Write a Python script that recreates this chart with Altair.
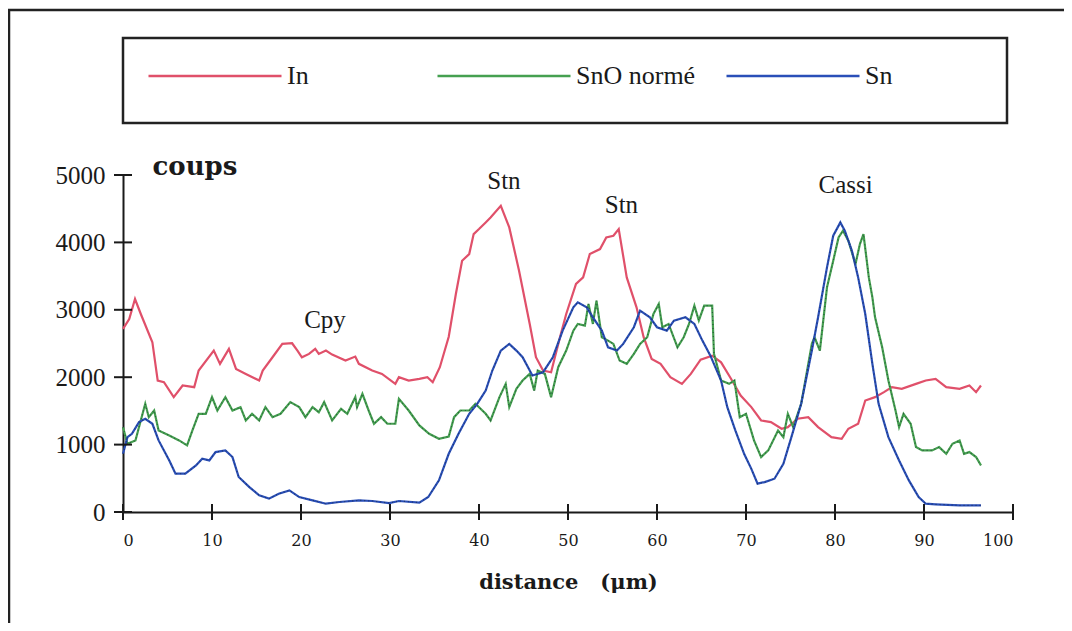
import altair as alt
import pandas as pd

# ---------------- data ----------------
SERIES = ["In", "SnO normé", "Sn"]
COLORS = ["#e0506a", "#45a050", "#2a4fb8"]

IN_X = [0, 0.7, 1.35, 2.0, 3.3, 3.9, 4.6, 5.7, 6.7, 8.0, 8.5, 10.2, 10.9, 11.9, 12.7, 13.8,
        15.3, 15.7, 16.8, 17.9, 19.0, 19.6, 20.1, 20.9, 21.6, 22.0, 22.8, 23.5, 25.0, 26.1,
        26.5, 28.0, 29.1, 30.6, 31.0, 32.1, 33.3, 34.2, 34.8, 35.6, 36.6, 37.4, 38.1, 38.9,
        39.4, 40.0, 40.75, 41.3, 42.45, 43.4, 44.5, 45.7, 46.4, 47.2, 48.1, 49.1, 49.8, 50.9,
        51.7, 52.45, 53.6, 54.3, 55.1, 55.7, 56.6, 57.7, 58.5, 59.4, 60.4, 61.5, 62.8, 63.8,
        64.9, 66.2, 67.2, 68.3, 69.4, 70.6, 71.7, 72.8, 74.0, 74.7, 75.8, 77.0, 78.1, 79.6,
        80.75, 81.5, 82.6, 83.4, 84.5, 85.5, 86.4, 87.5, 89.1, 90.2, 91.3, 92.5, 94.0, 95.1,
        95.85, 96.4]
IN_Y = [2716, 2864, 3160, 2938, 2519, 1950, 1926, 1704, 1877, 1852, 2099, 2395, 2198, 2420, 2123, 2049,
        1951, 2099, 2296, 2494, 2504, 2395, 2296, 2346, 2420, 2346, 2395, 2336, 2247, 2306,
        2198, 2099, 2049, 1901, 2000, 1951, 1975, 2000, 1926, 2148, 2600, 3235, 3728, 3827,
        4123, 4198, 4296, 4370, 4543, 4222, 3580, 2790, 2296, 2099, 2074, 2593, 2938, 3383,
        3481, 3827, 3901, 4074, 4099, 4198, 3481, 3037, 2593, 2272, 2198, 2000, 1901, 2049,
        2260, 2320, 2220, 1980, 1728, 1556, 1358, 1333, 1235, 1259, 1383, 1407, 1259, 1111,
        1086, 1235, 1309, 1654, 1704, 1778, 1852, 1827, 1901, 1951, 1975, 1852, 1827, 1877,
        1778, 1877]

SNO_X = [0, 0.5, 1.4, 2.2, 2.5, 2.9, 3.5, 4.0, 5.2, 6.3, 7.2, 7.8, 8.5, 9.3, 10.0, 10.6, 11.5,
         12.3, 13.2, 13.8, 14.5, 15.3, 16.0, 16.8, 17.7, 18.8, 19.8, 20.5, 21.3, 22.0, 22.6,
         23.5, 24.5, 25.2, 26.1, 26.3, 26.9, 27.6, 28.2, 29.0, 29.7, 30.6, 31.0, 32.1, 33.3,
         34.4, 35.5, 36.6, 37.2, 37.9, 38.9, 39.6, 40.75, 41.3, 42.3, 43.0, 43.4, 44.2, 44.9,
         45.7, 46.2, 46.6, 47.4, 48.1, 48.9, 49.8, 50.6, 51.1, 51.9, 52.3, 52.8, 53.2, 53.8,
         54.5, 55.1, 55.8, 56.6, 57.4, 58.1, 58.9, 59.6, 60.2, 60.6, 61.3, 62.3, 63.0, 63.6,
         64.2, 64.7, 65.3, 66.2, 66.4, 67.2, 68.1, 68.7, 69.3, 70.0, 70.9, 71.7, 72.5, 73.6,
         74.2, 74.7, 75.3, 76.2, 77.4, 77.7, 78.3, 79.1, 79.8, 80.4, 80.9, 81.5, 82.3, 82.8,
         83.2, 83.8, 84.2, 84.5, 85.3, 86.0, 86.8, 87.2, 87.7, 88.5, 89.1, 89.8, 90.9, 91.7,
         92.5, 93.2, 94.0, 94.5, 95.1, 95.85, 96.4]
SNO_Y = [1259, 1012, 1062, 1457, 1605, 1407, 1506, 1210, 1136, 1062, 988, 1210, 1457, 1457, 1704, 1506, 1704,
         1506, 1556, 1358, 1457, 1358, 1556, 1407, 1457, 1630, 1556, 1407, 1556, 1481, 1630,
         1358, 1531, 1457, 1704, 1556, 1753, 1506, 1309, 1407, 1309, 1309, 1679, 1506, 1284,
         1160, 1086, 1120, 1407, 1506, 1506, 1605, 1457, 1358, 1704, 1901, 1556, 1827, 1951,
         2049, 1802, 2099, 2049, 1704, 2148, 2395, 2691, 2790, 2765, 3086, 2790, 3136, 2593,
         2543, 2494, 2247, 2198, 2346, 2494, 2593, 2938, 3086, 2741, 2790, 2444, 2593, 2790,
         3062, 2840, 3062, 3062, 2346, 1951, 1901, 1951, 1407, 1457, 1062, 815, 914, 1210,
         1111, 1457, 1259, 1605, 2494, 2593, 2395, 3333, 3728, 4074, 4173, 4025, 3679, 3975,
         4123, 3481, 3185, 2889, 2444, 1951, 1506, 1259, 1457, 1309, 963, 914, 914, 963,
         864, 1012, 1062, 864, 889, 815, 691]

SN_X = [0, 0.5, 1.0, 1.8, 2.5, 3.3, 4.0, 5.2, 5.9, 7.0, 8.2, 8.9, 9.7, 10.4, 11.5, 12.3, 13.0,
        14.2, 15.3, 16.4, 17.5, 18.7, 19.8, 21.3, 22.8, 24.3, 26.5, 28.0, 29.9, 31.0, 33.3,
        34.3, 35.5, 36.6, 37.7, 38.9, 39.8, 40.75, 41.5, 42.45, 43.4, 44.2, 44.9, 46.0, 47.2,
        48.3, 49.4, 50.6, 51.1, 52.1, 52.8, 53.8, 54.5, 55.5, 56.2, 57.4, 58.1, 59.2, 60.0,
        61.1, 61.9, 63.2, 64.2, 65.1, 66.0, 67.2, 67.9, 68.8, 69.8, 70.6, 71.3, 72.1, 73.2,
        74.2, 75.1, 76.2, 77.4, 78.1, 79.1, 79.8, 80.6, 81.1, 81.9, 82.6, 83.4, 84.2, 84.9,
        86.0, 87.2, 88.3, 89.4, 90.2, 91.3, 94.0, 96.4]
SN_Y = [864, 1111, 1160, 1333, 1383, 1309, 1062, 765, 568, 568, 691, 790, 765, 889, 914, 815, 519,
        370, 247, 198, 272, 321, 222, 173, 123, 148, 173, 163, 133, 163, 140,
        222, 470, 864, 1160, 1457, 1605, 1802, 2099, 2395, 2494, 2395, 2296, 2025, 2074,
        2296, 2691, 3037, 3111, 3037, 2889, 2691, 2444, 2395, 2494, 2741, 2988, 2889, 2741,
        2691, 2840, 2889, 2790, 2543, 2320, 1950, 1555, 1210, 860, 640, 420, 444, 494,
        716, 1111, 1605, 2395, 2889, 3630, 4099, 4296, 4173, 3877, 3481, 2938, 2198, 1605,
        1111, 765, 469, 222, 123, 114, 99, 99]

X_TICKS = [0, 10, 20, 30, 40, 50, 60, 70, 80, 90, 100]
Y_TICKS = [0, 1000, 2000, 3000, 4000, 5000]

NOTE_TEXT = ["Cpy", "Stn", "Stn", "Cassi"]
NOTE_X = [22.7, 42.8, 56.0, 81.2]
NOTE_Y = [2730, 4792, 4441, 4733]

# ---------------- tables ----------------
rows = []
for name, xs, ys in [("In", IN_X, IN_Y), ("SnO normé", SNO_X, SNO_Y), ("Sn", SN_X, SN_Y)]:
    for i, (xv, yv) in enumerate(zip(xs, ys)):
        rows.append({"serie": name, "x": xv, "y": yv, "ord": i})
df = pd.DataFrame(rows)
notes = pd.DataFrame({"t": NOTE_TEXT, "x": NOTE_X, "y": NOTE_Y})
xt = pd.DataFrame({"x": X_TICKS})
yt = pd.DataFrame({"y": Y_TICKS})
one = pd.DataFrame({"a": [0]})

INK = "#1a1a1a"
xs_ = alt.Scale(domain=[0, 100], nice=False, zero=False)
ys_ = alt.Scale(domain=[0, 5000], nice=False)

x_axis = alt.Axis(values=X_TICKS, format="d", grid=False, ticks=True, tickSize=8, tickOpacity=0,
                  labelPadding=12, labelFont="DejaVu Serif", labelFontSize=16, labelColor=INK,
                  domainColor=INK, domainWidth=2, title="distance\u00a0\u00a0\u00a0(μm)",
                  titleFont="DejaVu Serif", titleFontWeight="bold", titleFontSize=21,
                  titleColor=INK, titlePadding=23)
y_axis = alt.Axis(values=Y_TICKS, format="d", grid=False, ticks=True, tickSize=9, tickOpacity=0,
                  labelPadding=9, labelFont="Liberation Serif", labelFontSize=25, labelColor=INK,
                  domainColor=INK, domainWidth=2, title="coups", titleAngle=0, titleX=29,
                  titleY=-1, titleAlign="left", titleBaseline="alphabetic",
                  titleFont="DejaVu Serif", titleFontWeight="bold", titleFontSize=26,
                  titleColor=INK)

X = alt.X("x:Q", scale=xs_, axis=x_axis)
Y = alt.Y("y:Q", scale=ys_, axis=y_axis)

lines = alt.Chart(df).mark_line(strokeWidth=2.2).encode(
    x=X, y=Y,
    color=alt.Color("serie:N", scale=alt.Scale(domain=SERIES, range=COLORS),
                    legend=alt.Legend(title=None, orient="none", legendX=24, legendY=-167,
                                      direction="horizontal", symbolType="stroke",
                                      symbolSize=17689, symbolStrokeWidth=2.5,
                                      labelFont="Liberation Serif", labelFontSize=26,
                                      labelColor=INK, labelOffset=4, gridAlign="all",
                                      columnPadding=25, padding=0, labelLimit=300)),
    order="ord:Q",
)

# dark speckle texture seen on the scanned green and blue traces
speckle = alt.Chart(df).transform_filter(alt.datum.serie != "In").mark_line(
    strokeWidth=1.2, strokeDash=[1, 3], color="#12202a", opacity=0.55).encode(
    x=X, y=Y, detail="serie:N", order="ord:Q")

xticks = alt.Chart(xt).mark_rule(color=INK, strokeWidth=2).encode(
    x=X, y=alt.value(329), y2=alt.value(345))
yticks = alt.Chart(yt).mark_rule(color=INK, strokeWidth=2).encode(
    y=Y, x=alt.value(-9), x2=alt.value(9))

labels = alt.Chart(notes).mark_text(font="Liberation Serif", fontSize=25, color=INK,
                                    baseline="alphabetic", align="center").encode(
    x=X, y=Y, text="t:N")

frame = alt.Chart(one).mark_rect(fill="transparent", stroke="#222", strokeWidth=2.5).encode(
    x=alt.value(-114), x2=alt.value(1000), y=alt.value(-165), y2=alt.value(500))
legend_box = alt.Chart(one).mark_rect(fill="transparent", stroke="#222", strokeWidth=2.5).encode(
    x=alt.value(0), x2=alt.value(884), y=alt.value(-137), y2=alt.value(-52))

chart = alt.layer(lines, speckle, xticks, yticks, labels, frame, legend_box).properties(
    width=890, height=337,
    background="white",
    autosize=alt.AutoSizeParams(type="none"),
    padding={"left": 115, "top": 167, "right": 51, "bottom": 111},
).configure_view(strokeWidth=0, stroke="transparent")

chart.save("out.html", embed_options={"renderer": "svg", "actions": False})
